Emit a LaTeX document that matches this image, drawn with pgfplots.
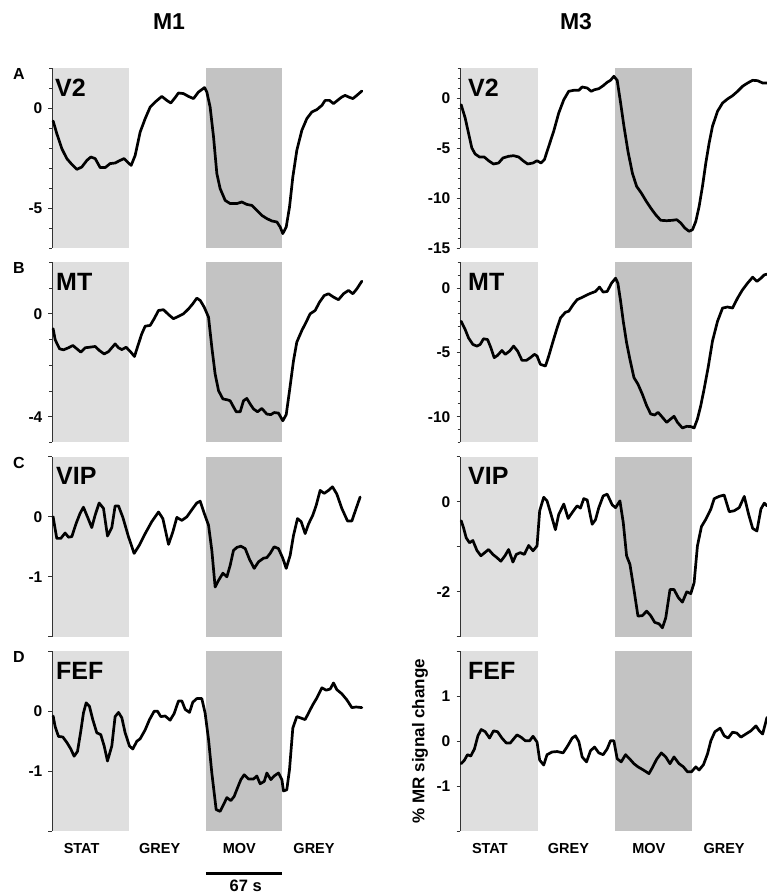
\documentclass[border=0pt]{standalone}
\usepackage{fontspec}
\setmainfont{Liberation Sans}
\usepackage{pgfplots}
\pgfplotsset{compat=1.18}
\definecolor{statfill}{gray}{0.875}
\definecolor{movfill}{gray}{0.765}
\newcommand{\fs}[1]{\fontsize{#1}{#1}\selectfont}

% condition blocks: STAT 0-67 s, MOV 134-201 s
\newcommand{\shades}[2]{%
  \addplot[fill=statfill, draw=none] coordinates {(0,#1) (67,#1) (67,#2) (0,#2)} -- cycle;
  \addplot[fill=movfill, draw=none] coordinates {(134,#1) (201,#1) (201,#2) (134,#2)} -- cycle;}
\newcommand{\area}[2]{\node[anchor=north west, inner sep=0pt, xshift=#1, yshift=-10.5pt,
  font=\bfseries\fs{25}] at (rel axis cs:0,1) {#2};}
\newcommand{\letter}[1]{\node[anchor=north west, inner sep=0pt, font=\bfseries\fs{16}]
  at ([xshift=-39pt]rel axis cs:0,1) {#1};}

\pgfplotsset{
  panel/.style={scale only axis, height=180pt, anchor=north west, clip=false,
    axis y line*=left, axis x line*=bottom,
    x axis line style={draw=none},
    y axis line style={-, draw=black!80, line width=0.8pt},
    xtick=\empty,
    tick align=outside, major tick length=3.5pt, minor tick length=2.5pt,
    every tick/.style={black!80, line width=0.8pt},
    xtick style={draw=none},
    yticklabel style={font=\bfseries\fs{15.5}, inner sep=0pt, xshift=-6pt},
    xticklabel style={font=\bfseries\fs{14.5}, inner sep=0pt, anchor=north, yshift=-8pt}},
  leftcol/.style={panel, width=311pt, xmin=-1, xmax=272},
  rightcol/.style={panel, width=307pt, xmin=-1, xmax=266.4},
  bottomrow/.style={xtick={25,93.5,163.5,229}, xticklabels={STAT,GREY,MOV,GREY}},
  trace/.style={black, line width=2.7pt, line join=round, line cap=round},
}

\begin{document}
\begin{tikzpicture}
\useasboundingbox (0,0) rectangle (766pt,894pt);

% ---------------- M1 ----------------
\begin{axis}[leftcol, at={(52pt,826pt)}, ymin=-7, ymax=2,
  ytick={-5,0}, yticklabels={-5,0}, minor ytick={-7,...,2}]
\shades{-7}{2}
\addplot[trace] coordinates {(0,-0.65) (3.2,-1.28) (7.6,-2.03) (12.0,-2.53) (16.4,-2.82) (20.8,-3.07) (25.2,-2.95) (29.6,-2.62) (33.1,-2.45) (36.9,-2.53) (41.3,-2.98) (45.7,-2.98) (50.0,-2.78) (54.4,-2.75) (58.8,-2.62) (62.3,-2.53) (66.1,-2.75) (68.5,-2.87) (72.0,-2.37) (76.4,-1.2) (80.8,-0.53) (85.2,0.05) (89.6,0.3) (95.4,0.58) (99.8,0.38) (103.3,0.25) (107.1,0.52) (110.0,0.75) (114.4,0.72) (118.8,0.58) (123.2,0.47) (127.6,0.8) (132.9,1.02) (134.9,0.8) (137.8,0.05) (140.8,-1.45) (143.7,-3.28) (146.6,-4.03) (151.0,-4.62) (155.4,-4.78) (161.3,-4.78) (165.6,-4.7) (170.0,-4.82) (174.4,-4.87) (178.8,-5.12) (183.2,-5.37) (187.6,-5.53) (192.0,-5.65) (196.4,-5.7) (199.3,-5.95) (201.6,-6.28) (204.6,-5.95) (207.5,-4.95) (210.4,-3.45) (213.9,-2.12) (218.3,-1.12) (222.7,-0.53) (227.1,-0.2) (231.5,-0.08) (235.9,0.13) (238.8,0.38) (242.6,0.38) (246.1,0.22) (249.6,0.38) (253.4,0.55) (256.4,0.63) (259.3,0.55) (263.1,0.47) (266.6,0.63) (271.0,0.85)};
\area{3pt}{V2}
\letter{A}
\node[font=\bfseries\fs{23}, inner sep=0pt] at ([xshift=117pt, yshift=46.5pt]rel axis cs:0,1) {M1};
\end{axis}

\begin{axis}[leftcol, at={(52pt,631.6pt)}, ymin=-5, ymax=2,
  ytick={-4,0}, yticklabels={-4,0}, minor ytick={-5,...,2}]
\shades{-5}{2}
\addplot[trace] coordinates {(0,-0.58) (1.8,-1.01) (5.6,-1.36) (9.1,-1.40) (13.5,-1.32) (17.3,-1.23) (20.8,-1.36) (24.3,-1.49) (28.1,-1.32) (31.9,-1.30) (36.9,-1.27) (40.7,-1.43) (44.8,-1.56) (48.6,-1.47) (54.4,-1.17) (57.4,-1.32) (60.3,-1.39) (64.1,-1.30) (68.2,-1.49) (71.4,-1.66) (74.9,-1.17) (77.8,-0.78) (80.8,-0.48) (85.2,-0.45) (88.7,-0.19) (92.5,0.13) (96.9,0.16) (101.3,-0.03) (105.6,-0.19) (110.0,-0.10) (114.4,0.0) (118.8,0.19) (122.6,0.39) (126.1,0.61) (129.1,0.52) (132.6,0.26) (136.4,-0.13) (139.3,-1.30) (142.2,-2.34) (145.2,-2.99) (149.0,-3.31) (152.5,-3.34) (155.4,-3.38) (157.7,-3.57) (160.7,-3.81) (164.2,-3.81) (167.1,-3.38) (170.0,-3.29) (173.0,-3.51) (175.9,-3.70) (179.4,-3.81) (183.2,-3.68) (187.6,-3.90) (191.1,-3.92) (194.0,-3.84) (197.8,-3.86) (201.6,-4.16) (204.6,-3.92) (207.5,-2.99) (211.0,-1.82) (213.9,-1.10) (218.3,-0.65) (222.1,-0.32) (225.6,0.0) (230.0,0.13) (233.8,0.45) (237.9,0.71) (241.7,0.78) (246.1,0.65) (250.5,0.55) (254.9,0.78) (259.3,0.91) (263.1,0.78) (266.6,0.97) (271.0,1.27)};
\area{4pt}{MT}
\letter{B}
\end{axis}

\begin{axis}[leftcol, at={(52pt,437.2pt)}, ymin=-2, ymax=1,
  ytick={-2,-1,0,1}, yticklabels={{},-1,0,{}}]
\shades{-2}{1}
\addplot[trace] coordinates {(0,0.0) (1.2,-0.14) (3.2,-0.36) (6.7,-0.36) (10.5,-0.27) (13.5,-0.34) (16.4,-0.33) (20.2,-0.11) (23.7,0.06) (26.6,0.16) (30.1,0.0) (33.9,-0.18) (36.9,0.03) (40.4,0.23) (44.2,0.14) (47.7,-0.32) (51.5,-0.18) (54.4,0.18) (57.4,0.18) (61.2,-0.01) (66.1,-0.33) (71.1,-0.61) (75.8,-0.47) (80.8,-0.28) (86.6,-0.08) (92.5,0.08) (96.3,-0.03) (101.3,-0.46) (105.1,-0.25) (108.6,-0.01) (113.0,-0.06) (117.4,0.0) (122.6,0.14) (126.1,0.23) (129.1,0.26) (132.6,0.06) (136.4,-0.14) (139.3,-0.56) (142.2,-1.17) (145.2,-1.06) (149.0,-0.94) (152.5,-1.0) (155.4,-0.81) (158.3,-0.56) (161.3,-0.51) (164.8,-0.49) (168.6,-0.53) (172.4,-0.71) (176.5,-0.86) (180.3,-0.75) (184.7,-0.69) (187.6,-0.68) (190.5,-0.61) (194.0,-0.50) (197.8,-0.53) (201.6,-0.69) (204.6,-0.86) (208.1,-0.64) (211.0,-0.31) (214.5,-0.03) (217.7,-0.08) (221.2,-0.28) (224.2,-0.12) (228.0,0.03) (230.9,0.19) (234.4,0.44) (237.9,0.39) (241.7,0.44) (245.2,0.50) (249.0,0.38) (253.4,0.14) (258.4,-0.07) (262.2,-0.07) (266.0,0.14) (269.5,0.33)};
\area{4pt}{VIP}
\letter{C}
\end{axis}

\begin{axis}[leftcol, bottomrow, at={(52pt,242.8pt)}, ymin=-2, ymax=1,
  ytick={-2,-1,0,1}, yticklabels={{},-1,0,{}}]
\shades{-2}{1}
\addplot[trace] coordinates {(0,-0.08) (1.8,-0.26) (4.7,-0.42) (8.5,-0.43) (12.0,-0.52) (15.5,-0.63) (18.4,-0.75) (21.4,-0.67) (24.3,-0.33) (26.6,-0.03) (29.0,0.14) (31.9,0.08) (34.8,-0.14) (38.3,-0.36) (41.8,-0.39) (44.8,-0.58) (47.7,-0.83) (51.5,-0.58) (54.4,-0.09) (57.4,-0.02) (60.3,-0.11) (63.2,-0.36) (67.0,-0.58) (69.9,-0.63) (73.5,-0.50) (76.4,-0.46) (80.8,-0.31) (84.6,-0.14) (88.7,0.0) (91.6,0.0) (94.5,-0.09) (98.3,-0.08) (102.7,-0.15) (106.2,-0.04) (110.0,0.17) (113.0,0.17) (115.9,0.03) (119.7,-0.02) (122.6,0.15) (126.1,0.21) (130.5,0.21) (133.4,-0.03) (136.4,-0.47) (139.3,-1.03) (143.1,-1.64) (146.6,-1.67) (149.5,-1.56) (152.5,-1.44) (156.0,-1.49) (158.9,-1.42) (161.8,-1.28) (164.8,-1.14) (167.7,-1.06) (171.5,-1.13) (175.9,-1.13) (178.8,-1.08) (181.7,-1.21) (185.3,-1.17) (187.6,-1.03) (191.1,-1.14) (194.0,-1.08) (197.8,-1.03) (200.8,-1.14) (202.2,-1.33) (205.1,-1.31) (207.5,-0.97) (210.4,-0.28) (213.9,-0.09) (216.9,-0.11) (221.2,-0.14) (224.2,-0.03) (228.0,0.11) (231.5,0.22) (235.9,0.39) (239.7,0.35) (243.2,0.37) (246.1,0.47) (249.0,0.36) (253.4,0.29) (257.8,0.19) (262.2,0.06) (266.0,0.07) (271.0,0.06)};
\area{4pt}{FEF}
\letter{D}
\draw[line width=2.7pt] ([yshift=-42pt]axis cs:134,-2) -- ([yshift=-42pt]axis cs:201,-2);
\node[font=\bfseries\fs{16.5}, inner sep=0pt, anchor=north] at ([yshift=-49pt]axis cs:169,-2) {67 s};
\end{axis}

% ---------------- M3 ----------------
\begin{axis}[rightcol, at={(460pt,826pt)}, ymin=-15, ymax=3,
  ytick={-15,-10,-5,0}, yticklabels={-15,-10,-5,0}, minor ytick={-15,...,3}]
\shades{-15}{3}
\addplot[trace] coordinates {(0,-0.67) (3.5,-2.0) (6.4,-3.5) (9.3,-5.0) (12.2,-5.6) (16.0,-5.9) (20.1,-5.9) (23.9,-6.27) (28.2,-6.6) (32.6,-6.5) (36.4,-6.0) (41.3,-5.83) (45.7,-5.77) (50.1,-5.9) (53.9,-6.27) (57.9,-6.6) (62.6,-6.5) (66.1,-6.27) (69.6,-6.5) (72.5,-6.17) (76.3,-4.83) (80.6,-3.33) (85.0,-1.5) (89.4,-0.17) (93.7,0.67) (98.1,0.77) (102.5,0.77) (105.4,1.1) (109.8,1.0) (113.2,0.67) (116.2,0.83) (119.9,0.93) (123.7,1.23) (127.2,1.57) (130.1,1.77) (133.0,2.17) (135.9,1.77) (138.9,-0.5) (141.8,-2.83) (145.3,-5.33) (149.1,-7.5) (152.8,-8.83) (156.9,-9.5) (160.7,-10.23) (165.1,-11.0) (169.4,-11.67) (173.8,-12.23) (179.0,-12.27) (184.0,-12.23) (187.8,-12.17) (191.3,-12.5) (194.8,-13.0) (198.5,-13.33) (201.5,-13.17) (204.4,-12.33) (207.3,-10.83) (210.2,-8.83) (213.1,-6.5) (216.0,-4.5) (218.9,-2.83) (223.3,-1.33) (227.7,-0.5) (232.0,-0.1) (236.4,0.23) (240.8,0.67) (245.1,1.17) (249.5,1.5) (253.9,1.77) (258.2,1.73) (262.6,1.5) (266.4,1.5)};
\area{8pt}{V2}
\node[font=\bfseries\fs{23}, inner sep=0pt] at ([xshift=116pt, yshift=46.5pt]rel axis cs:0,1) {M3};
\end{axis}

\begin{axis}[rightcol, at={(460pt,631.6pt)}, ymin=-12, ymax=2,
  ytick={-10,-5,0}, yticklabels={-10,-5,0}, minor ytick={-12,...,2}]
\shades{-12}{2}
\addplot[trace] coordinates {(0,-2.58) (3.5,-3.22) (6.4,-3.87) (10.2,-4.38) (13.7,-4.51) (16.6,-4.38) (19.5,-3.94) (23.0,-4.0) (25.9,-4.64) (28.8,-5.41) (31.7,-5.23) (35.5,-4.85) (38.4,-5.15) (42.2,-4.90) (45.7,-4.51) (49.2,-4.90) (53.0,-5.62) (56.8,-5.62) (60.3,-5.41) (63.8,-5.15) (66.1,-5.28) (69.0,-5.93) (73.4,-6.06) (76.3,-5.28) (80.1,-4.12) (83.6,-3.09) (86.5,-2.32) (90.8,-1.88) (93.7,-1.80) (97.5,-1.29) (101.0,-0.90) (105.4,-0.72) (109.8,-0.52) (113.2,-0.39) (117.0,-0.26) (120.5,0.08) (123.7,-0.31) (127.2,-0.26) (131.0,0.39) (134.5,0.77) (136.5,0.39) (138.9,-1.03) (141.2,-2.58) (144.1,-4.25) (147.0,-5.54) (150.5,-6.96) (154.0,-7.47) (157.8,-8.25) (161.6,-9.15) (165.1,-9.79) (168.6,-9.87) (171.5,-9.66) (175.3,-10.05) (179.0,-10.44) (182.5,-10.18) (185.4,-9.97) (188.4,-10.44) (192.7,-10.88) (196.5,-10.75) (200.0,-10.77) (202.9,-10.88) (205.8,-10.18) (208.7,-9.15) (211.6,-7.86) (215.1,-6.19) (218.9,-4.12) (223.3,-2.58) (227.7,-1.55) (232.0,-1.47) (236.4,-1.55) (240.8,-0.77) (245.1,-0.13) (249.5,0.39) (253.9,0.85) (257.6,0.52) (261.1,0.77) (264.0,1.03) (266.4,1.08)};
\area{8pt}{MT}
\end{axis}

\begin{axis}[rightcol, at={(460pt,437.2pt)}, ymin=-3, ymax=1,
  ytick={-3,-2,-1,0,1}, yticklabels={{},-2,{},0,{}}]
\shades{-3}{1}
\addplot[trace] coordinates {(0,-0.42) (2.0,-0.57) (4.4,-0.80) (7.3,-0.91) (10.2,-0.86) (13.7,-1.08) (17.2,-1.20) (21.0,-1.12) (23.9,-1.06) (27.7,-1.17) (31.1,-1.24) (34.6,-1.32) (38.4,-1.19) (41.3,-1.06) (45.1,-1.34) (48.0,-1.17) (51.5,-1.13) (55.0,-1.17) (58.8,-0.97) (62.6,-1.09) (66.1,-0.98) (68.4,-0.20) (71.9,0.10) (74.8,0.02) (78.3,-0.28) (82.1,-0.62) (85.0,-0.28) (89.4,-0.05) (93.2,-0.37) (96.7,-0.24) (101.0,-0.09) (103.9,-0.14) (106.8,0.07) (109.8,0.04) (114.1,-0.50) (117.0,-0.40) (119.9,-0.13) (123.7,0.13) (127.2,0.17) (131.6,-0.07) (134.5,-0.13) (138.3,0.02) (141.2,-0.46) (144.1,-1.20) (147.0,-1.39) (150.5,-1.95) (154.0,-2.54) (157.8,-2.53) (161.6,-2.43) (165.1,-2.53) (168.6,-2.68) (172.3,-2.71) (175.3,-2.80) (178.2,-2.58) (181.9,-1.95) (185.4,-1.95) (189.2,-2.13) (192.7,-2.23) (196.5,-2.0) (200.0,-2.04) (202.9,-1.80) (205.8,-0.98) (209.3,-0.55) (213.1,-0.39) (217.5,-0.16) (220.4,0.07) (224.7,0.12) (229.1,0.15) (233.5,-0.22) (237.8,-0.20) (242.2,-0.13) (246.6,0.12) (250.4,-0.28) (253.9,-0.59) (257.6,-0.65) (261.1,-0.16) (264.0,-0.03) (266.4,-0.09)};
\area{8pt}{VIP}
\end{axis}

\begin{axis}[rightcol, bottomrow, at={(460pt,242.8pt)}, ymin=-2, ymax=2,
  ytick={-2,-1,0,1,2}, yticklabels={{},-1,0,1,{}},
  ylabel={\% MR signal change},
  every axis y label/.style={at={(axis description cs:-0.13,0.5)}, rotate=90, anchor=center,
    font=\bfseries\fs{17}}]
\shades{-2}{2}
\addplot[trace] coordinates {(0,-0.50) (2.9,-0.42) (5.5,-0.30) (8.4,-0.33) (11.6,-0.17) (14.6,0.12) (17.5,0.26) (21.0,0.21) (24.7,0.07) (28.2,0.23) (31.7,0.21) (35.5,0.07) (39.3,-0.04) (42.8,-0.04) (45.7,0.05) (48.6,0.14) (52.1,0.09) (55.9,0.01) (59.7,0.01) (62.6,0.11) (66.1,-0.02) (68.4,-0.42) (71.9,-0.53) (74.8,-0.30) (79.2,-0.24) (83.6,-0.23) (88.8,-0.26) (92.9,-0.10) (96.7,0.07) (99.6,0.12) (102.5,-0.01) (105.4,-0.35) (109.2,-0.46) (112.7,-0.21) (116.2,-0.13) (119.9,-0.26) (123.7,-0.30) (127.2,-0.17) (130.1,0.01) (133.0,0.01) (135.9,-0.39) (139.4,-0.46) (143.2,-0.30) (147.0,-0.40) (150.5,-0.50) (154.0,-0.57) (158.7,-0.64) (163.6,-0.72) (166.5,-0.59) (170.3,-0.40) (174.4,-0.26) (178.2,-0.35) (181.9,-0.50) (185.4,-0.35) (189.8,-0.50) (193.6,-0.57) (197.1,-0.68) (200.6,-0.68) (204.4,-0.57) (207.3,-0.64) (211.1,-0.52) (214.6,-0.28) (217.5,0.01) (221.0,0.21) (225.6,0.29) (229.1,0.12) (232.6,0.07) (236.4,0.20) (240.2,0.18) (243.7,0.09) (248.0,0.16) (252.4,0.23) (256.8,0.34) (259.7,0.23) (262.6,0.16) (266.4,0.53)};
\area{8pt}{FEF}
\end{axis}
\end{tikzpicture}
\end{document}
